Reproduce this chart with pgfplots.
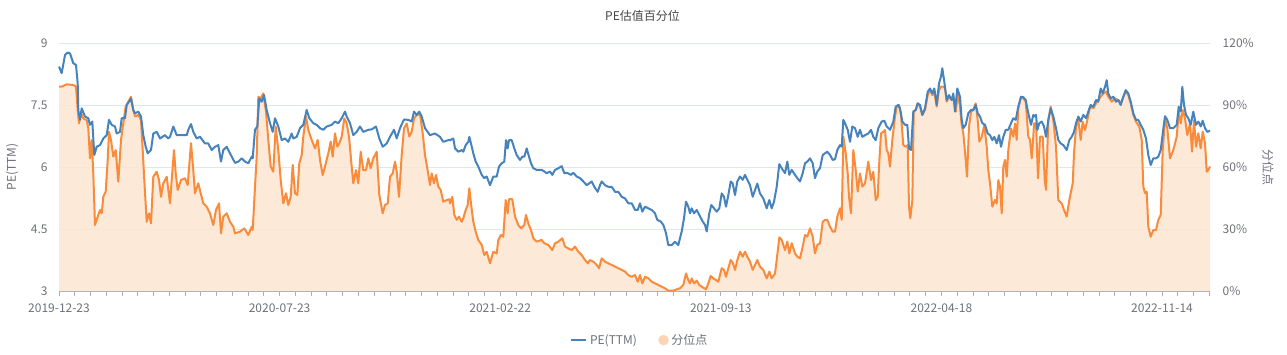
\documentclass[border=0pt]{standalone}
\usepackage{fontspec}
\setmainfont{Noto Sans CJK SC}
\usepackage{pgfplots}
\usepackage{pgfplotstable}
\pgfplotsset{compat=1.18}
\definecolor{peblue}{HTML}{4683BD}
\definecolor{pctorange}{HTML}{F98B3B}
\definecolor{pctfill}{HTML}{FDE5D1}
\definecolor{legfill}{HTML}{FDD5B5}
\definecolor{gridgray}{HTML}{E0E6F1}
\definecolor{labgray}{HTML}{6E7079}
\definecolor{axgray}{HTML}{A9ADB5}
\definecolor{titlegray}{HTML}{464646}
\pgfplotsset{lineleg/.style={legend image code/.code={\draw[##1] (0pt,0pt) -- (11.25pt,0pt);}},
  dotleg/.style={legend image code/.code={\fill[legfill] (5pt,0pt) circle[radius=3.75pt];}}}

\pgfplotstableread{
x pe
0 8.43
2.7 8.27
6 8.71
8.7 8.77
11 8.75
14.3 8.51
17 8.47
18.7 8.02
19.3 7.38
21 7.14
22.7 7.42
26 7.22
29.3 7.18
31 7.02
33.3 7.10
35.3 6.29
37.7 6.49
41 6.53
44.3 6.69
47.7 6.77
50 7.14
52.7 7.02
56 6.98
57.7 6.81
61 6.85
62.7 7.18
66 7.18
67.7 7.50
70 7.58
72 7.66
74.3 7.38
76 7.30
79.3 7.34
82 7.22
84.3 6.77
86.7 6.49
88.7 6.33
92 6.41
94.3 6.81
97.7 6.85
101 6.69
106 6.77
109.3 6.69
111 6.73
114.3 6.98
117.7 6.77
122.7 6.77
127.7 6.77
129.3 6.90
132 7.04
134.3 6.85
137.7 6.69
141 6.73
146 6.57
149.3 6.57
152.7 6.41
156 6.49
159.3 6.53
162 6.13
164.3 6.41
167.7 6.49
171 6.33
176 6.10
179.3 6.13
182.7 6.21
186 6.13
189.3 6.09
192.7 6.25
193.7 6.21
196 6.90
198.3 6.98
200.3 7.66
202.7 7.58
205 7.74
207.7 7.38
211 7.06
213.7 6.85
216 7.18
219.3 6.98
222.7 6.65
226 6.69
229.3 6.61
232.7 6.81
234.3 6.69
237.7 6.73
241 6.94
244.3 7.02
247.7 7.38
250.3 7.18
254.3 7.06
257.7 7.02
261 6.94
264.3 6.90
267.7 6.98
272.7 7.02
276 7.10
279.3 7.06
282.7 7.18
286 7.34
287.7 7.22
291 7.06
294.3 6.77
297.7 6.85
301 6.98
304.3 6.85
309.3 6.90
312.7 6.91
317 6.98
320.3 6.69
323.7 6.49
327.7 6.57
331 6.73
335 6.90
337.7 6.69
341 6.94
345 7.15
349.3 7.14
352.7 7.10
355 7.34
357.7 7.26
360.3 7.34
362.7 7.22
366 6.94
371 6.77
376 6.81
381 6.73
384.3 6.61
389.3 6.65
391 6.65
394.3 6.69
396 6.45
399.3 6.37
402.7 6.41
404.3 6.37
406.7 6.53
409.3 6.61
410.3 6.73
412 6.57
414.3 6.33
416.7 6.13
419.3 6.01
422.7 5.81
425.3 5.73
427.7 5.77
431 5.56
434.3 5.77
437.7 5.77
440 6.01
442.7 6.09
445.3 6.13
447 6.65
448.7 6.45
450 6.65
452.7 6.65
455.3 6.45
457.7 6.29
461 6.17
463.3 6.25
465.3 6.25
467.7 6.45
470 6.25
472 6.09
474.3 5.97
477.7 5.93
482.7 5.93
485.3 5.89
487.7 5.85
491 5.89
493.3 5.81
496 5.93
499.3 5.97
502.7 6.02
505.3 5.85
508.7 5.85
512 5.81
514.3 5.86
517.7 5.77
521 5.73
524.3 5.65
527.7 5.56
530 5.60
532.7 5.65
535.3 5.52
538.7 5.40
541 5.56
542.7 5.65
546 5.56
549.3 5.52
552.7 5.52
556 5.40
559.3 5.40
562.7 5.28
566 5.24
569.3 5.12
572.7 5.12
576 4.96
578.7 4.96
581 5.12
583.3 4.92
586 5.04
589.3 5.00
592.7 4.96
596 4.88
598.3 4.72
601.7 4.68
604.3 4.60
607 4.40
609.3 4.11
612.7 4.11
616 4.19
619.3 4.11
622.7 4.44
625 4.76
627 5.16
629.3 5.04
631 4.88
632.7 5.00
635 4.88
637.7 4.96
640.3 4.84
643.7 4.68
646 4.60
647.7 4.44
650.3 4.88
652.3 5.08
655 5.00
657.7 4.92
660.3 5.00
662.7 5.36
665 5.28
667 5.04
669.3 5.32
671.7 5.65
673.7 5.60
676 5.32
678.3 5.65
681 5.77
683.7 5.69
686 5.81
688.3 5.69
691 5.56
693.7 5.28
696 5.44
698.3 5.60
701 5.36
704.3 5.24
707.7 5.00
710.3 5.20
712.7 5.00
715 5.16
717.7 5.52
720.3 6.07
722.7 5.97
726 5.85
728.3 6.13
730.3 5.81
732.7 5.93
736 5.81
738.3 5.73
741 5.65
743.7 5.85
746 6.09
748.3 6.13
751 6.21
753.7 6.09
756 5.73
758.3 5.89
761 5.97
763.7 6.29
766 6.33
768.3 6.37
771 6.29
773.7 6.17
776 6.19
778.3 6.41
781 6.53
782.7 6.49
784.3 7.14
786 7.06
788.7 6.90
791 6.61
793.3 6.98
796 6.94
798.7 6.73
801 6.90
803.3 6.73
806 6.77
809.3 6.81
812 6.90
814.3 6.73
816.7 6.65
819.3 6.94
822.7 7.10
825.3 7.12
827.7 6.98
831 6.90
834.3 7.10
836.7 7.46
839.3 7.50
841 7.42
843.3 7.10
846 7.02
848.3 7.02
850 6.45
852 6.41
854.3 7.34
856.7 7.38
858.7 7.54
861 7.50
863.3 7.26
866 7.42
868.7 7.82
871 7.90
873.3 7.78
875.3 7.90
877.7 7.50
880 8.02
882 8.19
883.3 8.39
885.3 8.06
887.7 7.62
890 7.74
892.7 7.62
894.3 7.78
896 7.34
898.3 7.90
901 7.70
902.7 7.14
904.3 6.94
906.7 7.02
909.3 7.30
912 7.38
914.3 7.38
916.7 7.50
918.7 7.30
921 7.22
923.3 7.06
926 7.02
928.7 6.81
931 6.77
933.3 6.65
935.3 6.73
937.7 6.57
940 6.77
942 6.49
944.3 6.73
946.7 6.90
949.3 6.90
952 7.06
954.3 7.18
956.7 7.14
959.3 7.46
962 7.70
964.3 7.69
966.7 7.62
969.3 7.30
972 7.02
974.3 7.26
975 7.22
977 7.26
978.3 6.90
980.3 7.06
982.7 7.10
985 6.98
987 6.73
989.3 7.14
991.7 7.42
994.3 7.22
997 6.94
999.3 6.65
1001.7 6.57
1004.3 6.53
1007.7 6.41
1010.3 6.65
1012.7 6.73
1015 6.85
1017 7.06
1019.3 7.22
1021.7 7.10
1024.3 7.26
1027 7.18
1029.3 7.34
1031.7 7.50
1034.3 7.46
1037 7.62
1039.3 7.58
1041.7 7.90
1043.7 7.78
1046 7.94
1047.7 8.10
1049.3 7.78
1051.7 7.66
1054.3 7.70
1057 7.58
1059.3 7.62
1061.7 7.50
1064.3 7.70
1066.7 7.86
1069.3 7.78
1071.7 7.58
1074.3 7.30
1077 7.14
1079.3 7.14
1081.7 7.02
1084.3 6.90
1087 6.69
1089.3 6.29
1091.7 6.05
1094.3 6.21
1097 6.21
1099.3 6.25
1101.7 6.41
1103.7 6.81
1106 7.23
1108.3 7.14
1111 6.94
1114.3 6.94
1117.7 7.02
1119.7 7.46
1121.7 7.34
1123.3 7.94
1125 7.50
1127 7.26
1129.3 7.18
1131.7 7.02
1134.3 7.34
1137 7.02
1139.3 7.10
1141.7 6.98
1143.7 7.12
1146 6.94
1148.3 6.85
1151 6.88
}\petable

\pgfplotstableread{
x pct
0 98.9
2.7 98.9
7.7 100.0
14.3 99.7
17 98.9
18.7 87.6
20 81.1
22 86.0
24.3 83.5
27.7 82.7
29.3 78.7
31 64.2
32.7 73.1
34.3 56.9
36 31.9
38.7 36.0
41 39.2
42.7 37.6
44.3 45.6
46.7 48.1
48.7 63.4
50 77.1
52 73.1
54.3 65.0
56.7 68.2
59.3 52.9
62 73.1
64.3 81.1
66.7 89.2
69.3 91.6
72 94.0
74.3 87.6
76 84.4
79.3 85.2
82 82.7
83.7 68.2
85.3 53.7
87.7 33.5
90 37.6
92 32.7
94.3 55.3
97.7 57.7
100 53.7
102 45.6
104.3 52.1
107.7 55.3
111 42.4
112.7 53.7
115 68.2
116.7 56.9
118.7 48.9
122 53.7
126 54.5
128.7 51.3
132 71.5
134.3 58.5
136 47.3
139.3 52.1
141.7 47.3
144.3 42.4
147.7 40.8
151 37.6
154.3 31.9
157 39.2
160 42.4
162 27.9
164.3 36.0
167.7 37.6
171 33.5
174.3 31.1
176 27.9
181 28.7
185.3 30.3
189.3 27.1
192.7 31.1
193.7 29.5
196 50.5
197.7 65.0
199.3 94.0
201.7 93.2
204.3 95.6
207 86.8
209.3 73.1
211.7 60.2
214.3 57.7
216.7 79.5
219.3 68.2
221.7 53.7
224.3 42.4
227 47.3
229.3 41.6
231.7 45.6
233.7 61.0
236 47.3
238.3 46.5
240.3 61.8
242.7 65.8
244.3 74.7
247 84.4
249.3 77.9
252.7 73.1
256 69.0
258.7 73.1
261 63.4
263.7 56.1
266 60.2
269.3 66.6
271.7 72.3
273.7 65.0
276 76.3
278.3 69.8
280.3 71.5
282.7 74.7
285.3 83.5
287.7 81.1
290 74.7
292.7 60.2
294.3 52.1
297 58.5
299.3 52.1
301.7 67.4
304.3 58.5
307 58.5
309.3 64.2
311.7 59.4
314.3 64.2
317.7 67.4
320.3 46.5
323.7 37.6
326 41.6
328.7 42.4
331 55.3
333.7 56.9
336 62.6
337.7 57.7
340 45.6
342.7 65.8
345 78.7
347.7 81.1
350.3 74.7
352.7 77.1
355 83.5
357.7 85.2
361 85.6
363.7 76.3
366 65.8
368.3 59.4
371 51.3
372.7 56.9
375 52.1
377 56.1
379.3 50.5
381.7 48.9
384.3 43.2
387.7 44.0
390.3 44.4
391 42.4
393.3 45.6
395.3 36.8
397.7 34.4
400 36.0
402.7 33.5
404.3 35.2
406.7 39.2
408.7 41.6
410.3 49.7
412 42.4
414.3 33.5
416.7 28.7
419.3 24.7
422.7 22.3
425.3 17.4
427.7 19.0
431 13.4
434.3 19.0
437.7 18.2
439.3 24.7
442 27.1
444.3 26.3
446.7 44.0
448.7 37.6
450 44.4
453.3 44.4
456 36.0
459.3 31.9
462 30.3
465.3 31.9
467 36.8
469.3 32.7
472 29.5
474.3 25.5
477.7 23.9
482.7 24.7
485.3 23.1
489.3 22.3
493.3 19.8
496 23.1
499.3 23.9
503.3 25.5
506 21.5
509.3 20.6
512.7 19.8
516 21.5
519.3 19.0
522.7 17.4
526 15.0
528.7 13.4
531 15.0
534.3 14.2
537.7 12.6
540 11.0
542.7 15.8
546 14.2
549.3 13.4
552.7 12.6
556 11.8
559.3 11.0
562.7 10.2
566 9.4
569.3 7.7
572.7 6.9
576 7.7
578.7 4.5
581 7.7
583.3 3.7
586 6.9
589.3 6.1
592.7 4.5
596 3.7
599.3 2.9
602.7 2.1
606 1.3
609.3 0.2
614.3 0.2
617.7 0.8
621 1.3
624.3 2.9
627 8.5
629.3 5.3
631 3.7
632.7 6.1
635 3.7
637.7 5.0
640.3 2.9
643.7 1.8
647 0.8
649.3 3.7
651.7 7.3
654.3 6.1
657 5.3
659.3 4.5
662.7 11.0
665 10.2
667 6.9
669.3 11.0
671.7 15.0
673.7 13.7
676 10.2
678.3 15.0
681 19.0
683.7 16.6
686 19.0
688.3 16.6
691 14.2
693.7 10.2
696 12.6
698.3 15.0
701 11.8
704.3 10.2
707.7 6.1
710.3 9.4
712.7 6.1
716 8.5
717.7 15.0
720.3 26.0
722.7 24.7
726 19.8
728.3 23.9
730.3 18.2
732.7 23.1
736 18.2
738.3 16.6
741 15.8
743.7 21.5
746 27.1
748.3 26.3
751 30.3
753.7 26.3
756 18.2
758.3 22.3
761 23.1
763.7 33.5
766 34.4
768.3 34.4
771 31.1
773.7 28.7
776 28.7
778.3 36.0
781 40.0
782.7 34.4
784.3 74.7
786.7 66.6
788.7 56.9
790 45.6
792 37.6
794.3 68.2
796.7 58.5
798.7 48.1
801 56.9
803.3 50.5
806 52.1
809.3 62.6
812 53.7
814.3 57.7
816.7 44.0
818.7 45.6
820 60.2
822 76.3
824.3 77.1
826 77.9
827.7 68.2
829.3 66.6
831 60.2
833.3 73.1
836 84.4
837.7 89.2
840 90.0
842 85.2
844.3 70.6
846.7 69.8
848.7 70.6
850 40.8
851.3 35.2
853.3 44.0
854.7 86.8
856.7 87.6
858.7 90.8
861 89.2
863.3 85.2
866 87.6
868.7 94.8
871 97.3
873.3 94.8
875.3 96.5
877.7 89.2
880 97.3
882 98.9
884.3 98.9
886 98.1
887.7 91.6
890 94.0
892.7 92.4
894.3 94.0
896.7 86.8
898.7 95.6
901 89.2
902.7 80.3
904.3 76.3
906.7 63.4
908 55.3
910 79.5
912 86.8
914.3 87.6
916.7 90.8
918.7 82.7
920.3 72.3
922.7 74.7
925.3 80.3
927.7 69.8
929.3 58.5
931 52.1
933.3 40.8
936 44.0
937.7 42.4
939.3 53.7
941 50.5
942.7 37.6
944.3 60.2
946 63.4
947.7 55.3
949.3 68.2
952 78.7
954.3 74.7
956 81.1
957.7 73.1
959.3 88.4
962 94.0
964.3 93.2
966.7 91.6
969.3 74.7
971 73.1
972.7 64.2
974.3 74.7
975 81.1
977 81.1
979 54.5
981 74.7
983.7 74.7
985.7 53.7
987 48.9
989.3 82.7
991.7 89.2
994.3 82.7
997 69.8
999.3 44.0
1002.7 42.4
1005 39.2
1007.7 36.0
1010.3 44.0
1013.7 52.1
1015 66.6
1017 79.5
1019.3 82.7
1021.7 73.1
1023.7 81.9
1026 77.9
1028.3 82.7
1031 89.2
1034.3 88.4
1037 90.8
1039.3 92.4
1041.7 94.0
1044.3 95.6
1047 96.5
1049.3 94.0
1052.7 91.6
1056 93.2
1059.3 92.4
1061.7 90.8
1064.3 94.0
1067 96.5
1069.3 94.8
1071.7 90.8
1074.3 85.2
1077 81.9
1080.3 79.5
1082.7 73.1
1084.3 50.5
1086 47.3
1087.7 48.1
1089.3 31.1
1091.7 26.3
1094.3 29.5
1097 29.5
1099.3 34.4
1101.7 36.8
1103.7 68.2
1106 83.5
1108.3 78.7
1111 64.2
1114.3 68.2
1117.7 74.7
1119.7 86.8
1121.7 81.1
1123.7 87.6
1126 83.5
1128.3 75.5
1131 81.1
1133 67.4
1135 82.7
1137 69.8
1139.3 76.3
1141.7 69.0
1143.7 77.1
1146 71.5
1147.7 57.7
1149.3 58.5
1151 60.2
}\pcttable

\begin{document}
\begin{tikzpicture}
\useasboundingbox (0,0) rectangle (965.25pt,265.5pt);
% ---- right axis: percentile ----
\begin{axis}[
  at={(44.25pt,47.25pt)}, anchor=south west,
  scale only axis, width=863.25pt, height=186pt,
  xmin=0, xmax=1151, ymin=0, ymax=120,
  axis x line*=bottom, axis y line*=right,
  x axis line style={draw=axgray, line width=0.75pt},
  y axis line style={draw=none},
  xtick={0,220.6,441.2,661.8,882.4,1103},
  xticklabels={2019-12-23,2020-07-23,2021-02-22,2021-09-13,2022-04-18,2022-11-14},
  minor xtick={0,15.757,...,1151},
  xtick align=outside,
  major tick length=3.75pt, minor tick length=3.75pt,
  every tick/.style={draw=axgray, line width=0.6pt},
  ytick={0,30,60,90,120},
  yticklabel={\pgfmathprintnumber{\tick}\%},
  major y tick style={draw=none},
  ymajorgrids, grid style={draw=gridgray, line width=0.75pt},
  /pgf/number format/assume math mode=true,
  tick label style={font=\fontsize{9pt}{11pt}\selectfont, text=labgray},
  yticklabel style={xshift=6pt},
  xticklabel style={yshift=-2pt},
  ylabel={分位点},
  ylabel style={at={(axis description cs:1.0504,0.5)}, anchor=center, rotate=180, font=\fontsize{9pt}{11pt}\selectfont, text=labgray},
  clip=false,
]
\addplot[draw=none, fill=pctfill, fill opacity=0.85] table[x=x,y=pct]{\pcttable} \closedcycle;
\addplot[pctorange, line width=1.5pt, line join=round] table[x=x,y=pct]{\pcttable};
\end{axis}
% ---- left axis: PE ----
\begin{axis}[
  at={(44.25pt,47.25pt)}, anchor=south west,
  scale only axis, width=863.25pt, height=186pt,
  xmin=0, xmax=1151, ymin=3, ymax=9,
  axis x line=none, axis y line*=left,
  y axis line style={draw=none},
  ytick={3,4.5,6,7.5,9},
  major y tick style={draw=none},
  /pgf/number format/assume math mode=true,
  tick label style={font=\fontsize{9pt}{11pt}\selectfont, text=labgray},
  yticklabel style={xshift=-5pt},
  ylabel={PE(TTM)},
  ylabel style={at={(axis description cs:-0.0408,0.5)}, anchor=center, font=\fontsize{9pt}{11pt}\selectfont, text=labgray},
  title={PE估值百分位},
  title style={at={(axis description cs:0.507,1.077)}, anchor=center, font=\fontsize{9pt}{11pt}\selectfont, text=titlegray},
  legend columns=2,
  legend style={at={(axis description cs:0.505,-0.198)}, anchor=center, draw=none, fill=none,
    font=\fontsize{9pt}{11pt}\selectfont, text=labgray,
    /tikz/every even column/.append style={column sep=14pt}},
  clip=false,
]
\addplot[peblue, line width=1.5pt, line join=round, lineleg] table[x=x,y=pe]{\petable};
\addlegendentry{PE(TTM)}
\addlegendimage{dotleg}
\addlegendentry{分位点}
\end{axis}
\end{tikzpicture}
\end{document}
